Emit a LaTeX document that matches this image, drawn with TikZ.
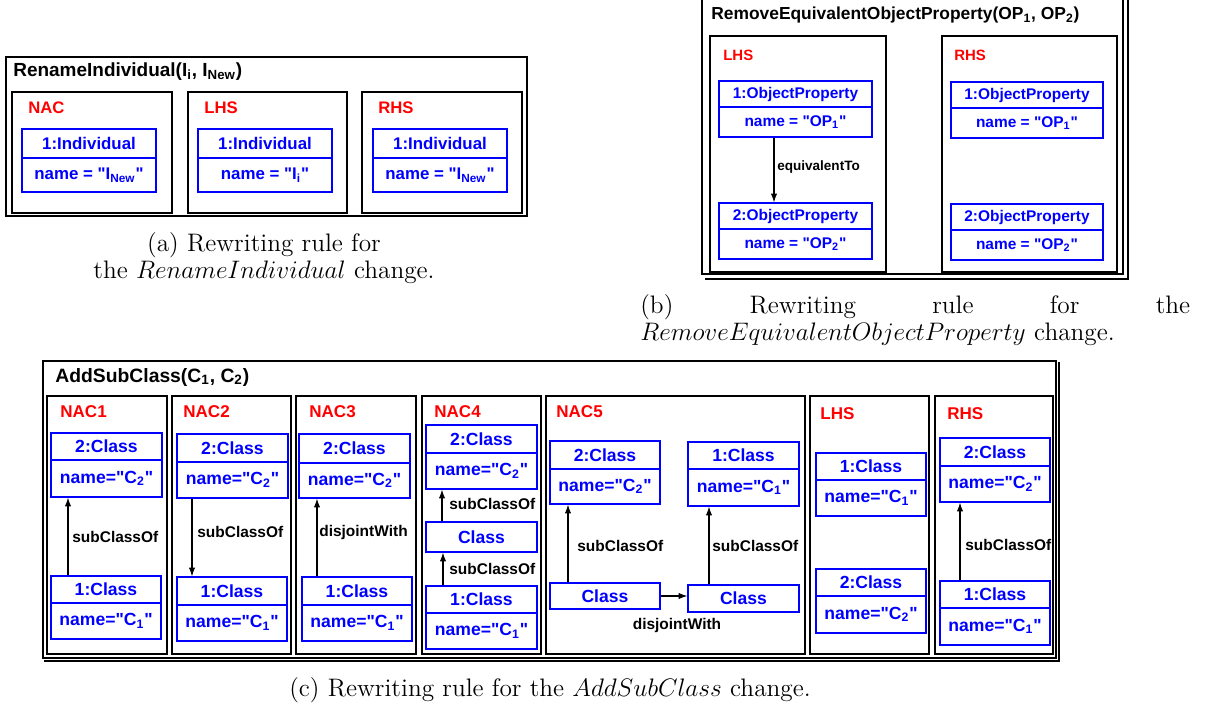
\documentclass[tikz,border=0pt]{standalone}
\usepackage{fontspec}
\newfontfamily\diagfont{Liberation Sans}
\usetikzlibrary{arrows.meta, fit}
\definecolor{umlblue}{RGB}{0,0,255}
\definecolor{tagred}{RGB}{255,0,0}
\newcommand{\sfb}{\diagfont\bfseries}
\newcommand{\headsize}{10}
\newcommand{\tagsize}{10}
\newcommand{\clssize}{10}
\newcommand{\relsize}{9}
\hbadness=10000
\tikzset{
  ruleframe/.style={draw, line width=1pt, inner sep=0pt},
  panel/.style={draw, line width=0.8pt, inner sep=0pt},
  clsframe/.style={draw=umlblue, line width=0.7pt, inner sep=0pt},
  clstext/.style={text=umlblue, inner sep=0pt, font=\sfb\fontsize{\clssize}{\clssize}\selectfont},
  tag/.style={text=tagred, anchor=west, inner sep=0pt, font=\sfb\fontsize{\tagsize}{\tagsize}\selectfont},
  heading/.style={anchor=west, inner sep=0pt, font=\sfb\fontsize{\headsize}{\headsize}\selectfont},
  rel/.style={-{Latex[length=5pt,width=3.6pt]}, line width=0.6pt},
  rellabel/.style={anchor=west, inner sep=0pt, font=\sfb\fontsize{\relsize}{\relsize}\selectfont},
  caption/.style={align=center, inner sep=0pt, font=\fontsize{14.4}{15.4}\selectfont}
}
% box with a name compartment and an attribute compartment
\newcommand{\clsbox}[8]{%
  \node[clsframe, fit={(#2,#3) (#4,#6)}] (#1) {};
  \draw[clsframe] (#2,#5) -- (#4,#5);
  \node[clstext] (#1-h) at ({(#2+#4)/2},{(#3+#5)/2}) {#7};
  \node[clstext] (#1-a) at ({(#2+#4)/2},{(#5+#6)/2}) {#8};
}
% box with the name compartment only
\newcommand{\clsone}[6]{%
  \node[clsframe, fit={(#2,#3) (#4,#5)}] (#1) {};
  \node[clstext] (#1-h) at (#1.center) {#6};
}

\begin{document}
\begin{tikzpicture}[x=0.02cm, y=-0.02cm]
\useasboundingbox (0,0) rectangle (1205,708);

% (a) RenameIndividual
\begin{scope}
\renewcommand{\headsize}{10.8}\renewcommand{\tagsize}{9.5}\renewcommand{\clssize}{9.6}
\node[ruleframe, line width=1.2pt, fit={(6,57) (527,216)}] (rename) {};
\node[heading] (renameT) at (13,72) {RenameIndividual(I\textsubscript{i}, I\textsubscript{New})};
\node[panel, fit={(12,92) (172,213)}] (nacA) {};
\node[panel, fit={(188,92) (347,213)}] (lhsA) {};
\node[panel, fit={(362,92) (522,213)}] (rhsA) {};
\node[tag] (nacAT) at (28,108) {NAC};
\node[tag] (lhsAT) at (204,108) {LHS};
\node[tag] (rhsAT) at (378,108) {RHS};
\clsbox{nacAind}{22}{129}{156}{158}{192}{1:Individual}{name = "I\textsubscript{New}"}
\clsbox{lhsAind}{198}{129}{332}{158}{192}{1:Individual}{name = "I\textsubscript{i}"}
\clsbox{rhsAind}{373}{129}{507}{158}{192}{1:Individual}{name = "I\textsubscript{New}"}
\end{scope}

% (b) RemoveEquivalentObjectProperty
\begin{scope}
\renewcommand{\headsize}{9.9}\renewcommand{\tagsize}{8.5}\renewcommand{\clssize}{8.8}\renewcommand{\relsize}{7.7}
\node[ruleframe, fit={(702,-5) (1123,274)}] (remove) {};
\draw[line width=1pt] ([shift={(4,4)}]remove.north east) -- ([shift={(4,4)}]remove.south east) -- ([shift={(4,4)}]remove.south west);
\node[heading] (removeT) at (711,15) {RemoveEquivalentObjectProperty(OP\textsubscript{1}, OP\textsubscript{2})};
\node[panel, fit={(710,36) (886,272)}] (lhsB) {};
\node[panel, fit={(942,36) (1117,272)}] (rhsB) {};
\node[tag] (lhsBT) at (723,55) {LHS};
\node[tag] (rhsBT) at (954,55) {RHS};
\clsbox{lhsBop1}{719}{81}{872}{107}{137}{1:ObjectProperty}{name = "OP\textsubscript{1}"}
\clsbox{lhsBop2}{719}{203}{872}{229}{259}{2:ObjectProperty}{name = "OP\textsubscript{2}"}
\clsbox{rhsBop1}{951}{82}{1103}{108}{138}{1:ObjectProperty}{name = "OP\textsubscript{1}"}
\clsbox{rhsBop2}{951}{204}{1103}{230}{260}{2:ObjectProperty}{name = "OP\textsubscript{2}"}
\draw[rel] (lhsBop1.south -| 774,0) -- (lhsBop2.north -| 774,0);
\node[rellabel] (equivB) at (777,167) {equivalentTo};
\end{scope}

% (c) AddSubClass
\begin{scope}
\renewcommand{\headsize}{11}\renewcommand{\tagsize}{9.7}\renewcommand{\clssize}{10}\renewcommand{\relsize}{8.8}
\node[ruleframe, fit={(43,361) (1056,658)}] (addsub) {};
\draw[line width=0.8pt] ([shift={(2,2)}]addsub.north east) -- ([shift={(2,2)}]addsub.south east) -- ([shift={(2,2)}]addsub.south west);
\node[heading] (addsubT) at (55,377) {AddSubClass(C\textsubscript{1}, C\textsubscript{2})};
\node[panel, fit={(47,396) (167,654)}] (nac1) {};
\node[panel, fit={(172,396) (291,654)}] (nac2) {};
\node[panel, fit={(296,396) (416,654)}] (nac3) {};
\node[panel, fit={(422,396) (541,654)}] (nac4) {};
\node[panel, fit={(546,396) (805,654)}] (nac5) {};
\node[panel, fit={(810,396) (929,654)}] (lhsC) {};
\node[panel, fit={(935,396) (1053,654)}] (rhsC) {};
\node[tag] (nac1T) at (60,412) {NAC1};
\node[tag] (nac2T) at (183,412) {NAC2};
\node[tag] (nac3T) at (309,412) {NAC3};
\node[tag] (nac4T) at (434,412) {NAC4};
\node[tag] (nac5T) at (556,412) {NAC5};
\node[tag] (lhsCT) at (820,414) {LHS};
\node[tag] (rhsCT) at (947,414) {RHS};
% NAC1
\clsbox{n1a}{51}{433}{162}{460}{497}{2:Class}{name="C\textsubscript{2}"}
\clsbox{n1b}{51}{576}{161}{603}{639}{1:Class}{name="C\textsubscript{1}"}
\draw[rel] (n1b.north -| 68,0) -- (n1a.south -| 68,0);
\node[rellabel] (n1r) at (72,537) {subClassOf};
% NAC2
\clsbox{n2a}{177}{434}{288}{462}{498}{2:Class}{name="C\textsubscript{2}"}
\clsbox{n2b}{177}{577}{287}{605}{641}{1:Class}{name="C\textsubscript{1}"}
\draw[rel] (n2a.south -| 192,0) -- (n2b.north -| 192,0);
\node[rellabel] (n2r) at (197,532) {subClassOf};
% NAC3
\clsbox{n3a}{299}{434}{410}{463}{498}{2:Class}{name="C\textsubscript{2}"}
\clsbox{n3b}{302}{577}{412}{605}{641}{1:Class}{name="C\textsubscript{1}"}
\draw[rel] (n3b.north -| 317,0) -- (n3a.south -| 317,0);
\node[rellabel] (n3r) at (319,532) {disjointWith};
% NAC4
\clsbox{n4a}{426}{425}{537}{453}{489}{2:Class}{name="C\textsubscript{2}"}
\clsone{n4m}{426}{522}{537}{552}{Class}
\clsbox{n4b}{426}{586}{537}{613}{649}{1:Class}{name="C\textsubscript{1}"}
\draw[rel] (n4m.north -| 442,0) -- (n4a.south -| 442,0);
\draw[rel] (n4b.north -| 443,0) -- (n4m.south -| 443,0);
\node[rellabel] (n4r1) at (449,504) {subClassOf};
\node[rellabel] (n4r2) at (449,569) {subClassOf};
% NAC5
\clsbox{n5a}{550}{441}{660}{469}{504}{2:Class}{name="C\textsubscript{2}"}
\clsbox{n5b}{688}{442}{799}{469}{506}{1:Class}{name="C\textsubscript{1}"}
\clsone{n5l}{550}{583}{660}{609}{Class}
\clsone{n5r}{688}{585}{799}{612}{Class}
\draw[rel] (n5l.north -| 568,0) -- (n5a.south -| 568,0);
\draw[rel] (n5r.north -| 709,0) -- (n5b.south -| 709,0);
\draw[rel] (n5l.east) -- (n5r.west |- n5l.east);
\node[rellabel] (n5r1) at (577,546) {subClassOf};
\node[rellabel] (n5r2) at (712,546) {subClassOf};
\node[rellabel, anchor=center] (n5r3) at (677,625) {disjointWith};
% LHS
\clsbox{lhsCa}{816}{453}{926}{480}{516}{1:Class}{name="C\textsubscript{1}"}
\clsbox{lhsCb}{816}{569}{926}{596}{633}{2:Class}{name="C\textsubscript{2}"}
% RHS
\clsbox{rhsCa}{940}{438}{1050}{466}{502}{2:Class}{name="C\textsubscript{2}"}
\clsbox{rhsCb}{940}{581}{1050}{608}{645}{1:Class}{name="C\textsubscript{1}"}
\draw[rel] (rhsCb.north -| 960,0) -- (rhsCa.south -| 960,0);
\node[rellabel] (rhsCr) at (965,545) {subClassOf};
\end{scope}

% captions
\node[caption] (capA) at (264,258) {(a) Rewriting rule for\\the $RenameIndividual$ change.};
\node[caption, anchor=north west, text width=11cm, align=justify] (capB) at (640,294) {(b) Rewriting rule for the\linebreak $RemoveEquivalentObjectProperty$ change.};
\node[caption] (capC) at (550,690) {(c) Rewriting rule for the $AddSubClass$ change.};
\end{tikzpicture}
\end{document}
